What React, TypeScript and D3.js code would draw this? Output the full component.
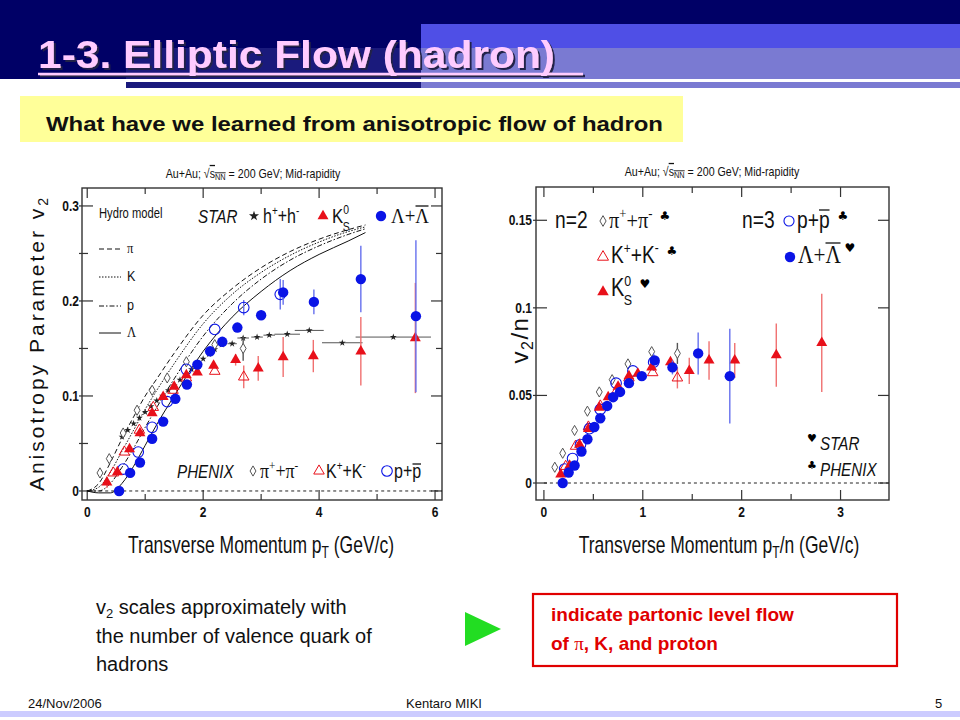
import * as d3 from "d3"
import type { ReactNode } from "react"

type Pt = [number, number, number?] // x, v2, error

// ---- left panel: v2 vs pT ----
const hydroPi: [number, number][] = [
  [0, 0], [0.2, 0.008], [0.4, 0.03], [0.6, 0.055], [0.8, 0.078], [1.0, 0.1], [1.2, 0.118],
  [1.5, 0.145], [2.0, 0.185], [2.5, 0.213], [3.0, 0.235], [3.5, 0.252], [4.0, 0.265], [4.5, 0.275], [4.8, 0.28],
]
const hydroK: [number, number][] = [
  [0, 0], [0.2, 0.004], [0.4, 0.02], [0.6, 0.042], [0.8, 0.064], [1.0, 0.086], [1.2, 0.106],
  [1.5, 0.134], [2.0, 0.176], [2.5, 0.207], [3.0, 0.23], [3.5, 0.248], [4.0, 0.262], [4.5, 0.273], [4.8, 0.278],
]
const hydroP: [number, number][] = [
  [0, 0], [0.2, 0.0], [0.4, 0.008], [0.6, 0.025], [0.8, 0.045], [1.0, 0.067], [1.2, 0.088],
  [1.5, 0.118], [2.0, 0.163], [2.5, 0.197], [3.0, 0.223], [3.5, 0.243], [4.0, 0.258], [4.5, 0.27], [4.8, 0.276],
]
const hydroLam: [number, number][] = [
  [0, 0], [0.2, -0.002], [0.4, -0.002], [0.6, 0.008], [0.8, 0.026], [1.0, 0.048], [1.2, 0.07],
  [1.5, 0.1], [2.0, 0.147], [2.5, 0.183], [3.0, 0.21], [3.5, 0.232], [4.0, 0.249], [4.5, 0.263], [4.8, 0.272],
]

// STAR charged hadrons: pT, v2, horizontal error
const starH: Pt[] = [
  [0.6, 0.057], [0.7, 0.064], [0.8, 0.071], [0.9, 0.077], [1.0, 0.083], [1.1, 0.089], [1.2, 0.095],
  [1.3, 0.1], [1.4, 0.106], [1.5, 0.111], [1.6, 0.117], [1.7, 0.122], [1.8, 0.128], [1.9, 0.133],
  [2.0, 0.139], [2.1, 0.144], [2.2, 0.149], [2.32, 0.154, 0.08], [2.5, 0.155, 0.08], [2.69, 0.161, 0.1],
  [2.93, 0.162, 0.1], [3.14, 0.164, 0.1], [3.45, 0.165, 0.22], [3.83, 0.169, 0.25], [4.4, 0.156, 0.35],
  [5.28, 0.162, 0.65],
]
const starK0: Pt[] = [
  [0.34, 0.009, 0.006], [0.52, 0.02, 0.004], [0.73, 0.044], [0.91, 0.061], [1.12, 0.082], [1.31, 0.099],
  [1.5, 0.11], [1.71, 0.122], [1.9, 0.125], [2.18, 0.132], [2.56, 0.138, 0.006], [2.95, 0.129, 0.013],
  [3.38, 0.141, 0.021], [3.9, 0.142, 0.017], [4.72, 0.147, 0.036], [5.66, 0.161, 0.058],
]
const starLam: Pt[] = [
  [0.55, 0.0, 0.004], [0.74, 0.019], [0.91, 0.03], [1.12, 0.055], [1.31, 0.073], [1.52, 0.097],
  [1.72, 0.112], [1.9, 0.133], [2.12, 0.147], [2.33, 0.157], [2.59, 0.172, 0.004], [3.0, 0.185, 0.005],
  [3.38, 0.209, 0.013], [3.91, 0.199, 0.013], [4.72, 0.223, 0.035], [5.67, 0.184, 0.08],
]
const phxPi: Pt[] = [
  [0.22, 0.019], [0.38, 0.034], [0.62, 0.061], [0.86, 0.085], [1.12, 0.106], [1.38, 0.119],
  [1.71, 0.136], [2.2, 0.154], [2.69, 0.15, 0.013],
]
const phxK: Pt[] = [
  [0.45, 0.019], [0.64, 0.041], [0.9, 0.064], [1.14, 0.088], [1.48, 0.106], [1.71, 0.119],
  [2.2, 0.126], [2.7, 0.12, 0.012],
]
const phxP: Pt[] = [
  [0.62, 0.023], [0.88, 0.041], [1.12, 0.067], [1.38, 0.094], [1.71, 0.128], [2.2, 0.17],
  [2.7, 0.193, 0.008], [3.33, 0.207, 0.016],
]

// ---- right panel: v2/n vs pT/n ----
const nPi: Pt[] = [
  [0.11, 0.009], [0.19, 0.017], [0.31, 0.03], [0.44, 0.041], [0.56, 0.052], [0.69, 0.059],
  [0.85, 0.068], [1.09, 0.075], [1.35, 0.074, 0.006],
]
const nK: Pt[] = [
  [0.22, 0.0095], [0.32, 0.021], [0.45, 0.032], [0.57, 0.044], [0.74, 0.053], [0.86, 0.06],
  [1.1, 0.063], [1.35, 0.06, 0.006],
]
const nK0: Pt[] = [
  [0.17, 0.005], [0.26, 0.01], [0.36, 0.022], [0.45, 0.031], [0.56, 0.043], [0.65, 0.049],
  [0.75, 0.055], [0.86, 0.061], [0.95, 0.0625], [1.09, 0.066], [1.28, 0.069], [1.47, 0.064, 0.0075],
  [1.67, 0.07, 0.011], [1.93, 0.07, 0.01], [2.35, 0.073, 0.018], [2.81, 0.08, 0.028],
]
const nP: Pt[] = [
  [0.21, 0.008], [0.29, 0.014], [0.37, 0.022], [0.46, 0.031], [0.57, 0.042], [0.73, 0.057],
  [0.9, 0.064], [1.11, 0.069, 0.005],
]
const nLam: Pt[] = [
  [0.19, 0.0, 0.0015], [0.25, 0.006], [0.31, 0.01], [0.38, 0.018], [0.44, 0.025], [0.51, 0.032],
  [0.57, 0.037], [0.64, 0.044], [0.7, 0.049], [0.77, 0.052], [0.86, 0.057], [0.99, 0.061],
  [1.12, 0.07], [1.3, 0.066, 0.004], [1.56, 0.074, 0.012], [1.88, 0.061, 0.027],
]

const leftYMajor = [0, 0.1, 0.2, 0.3]
const leftYMinor = [0.05, 0.15, 0.25]
const leftXMajor = [0, 2, 4, 6]
const leftXMinor = [1, 3, 5]
const rightYMajor = [0, 0.05, 0.1, 0.15]
const rightXMajor = [0, 1, 2, 3]
const rightXMinor = [0.5, 1.5, 2.5]

const SANS = "'Liberation Sans', Arial, sans-serif"
const SERIF = "'Liberation Serif', 'Times New Roman', serif"
const SYMF = "'DejaVu Sans', sans-serif"
const BLUE = "#0a14e6"
const RED = "#e8101a"
const EBLUE = "#6670ee"
const ERED = "#f07070"
const SX = 0.8

const lx = d3.scaleLinear().domain([-0.09, 6.12]).range([82, 442])
const ly = d3.scaleLinear().domain([-0.0095, 0.3189]).range([500, 188])
const rx = d3.scaleLinear().domain([-0.08, 3.49]).range([536, 889])
const ry = d3.scaleLinear().domain([-0.0097, 0.169]).range([500, 187])

type Scale = d3.ScaleLinear<number, number>

function NT(p: {
  x: number; y: number; size: number; anchor?: string; weight?: string | number; italic?: boolean
  fill?: string; sx?: number; family?: string; rotate?: number; ls?: number; children: ReactNode
}) {
  return (
    <g transform={`translate(${p.x},${p.y}) rotate(${p.rotate ?? 0}) scale(${p.sx ?? SX},1)`}>
      <text
        fontSize={p.size}
        textAnchor={p.anchor ?? "start"}
        fontWeight={p.weight ?? "normal"}
        fontStyle={p.italic ? "italic" : "normal"}
        fill={p.fill ?? "#111"}
        fontFamily={p.family ?? SANS}
        letterSpacing={p.ls}
      >
        {p.children}
      </text>
    </g>
  )
}

// bar over a letter (anti-particle), drawn by hand
const Bar = ({ x1, x2, y }: { x1: number; x2: number; y: number }) => (
  <line x1={x1} x2={x2} y1={y} y2={y} stroke="#111" strokeWidth={1.3} />
)

const sym = (t: d3.SymbolType, size: number) => d3.symbol().type(t).size(size)() as string

function Marker({ kind, x, y, s = 1 }: { kind: string; x: number; y: number; s?: number }) {
  switch (kind) {
    case "dot":
      return <circle cx={x} cy={y} r={5.2 * s} fill={BLUE} />
    case "ocirc":
      return <circle cx={x} cy={y} r={5.3 * s} fill="none" stroke={BLUE} strokeWidth={1.1} />
    case "tri":
      return <path transform={`translate(${x},${y})`} d={sym(d3.symbolTriangle, 52 * s * s)} fill={RED} />
    case "otri":
      return (
        <path transform={`translate(${x},${y})`} d={sym(d3.symbolTriangle, 48 * s * s)}
          fill="none" stroke={RED} strokeWidth={1} />
      )
    case "diam":
      return (
        <path transform={`translate(${x},${y})`} d={sym(d3.symbolDiamond, 30 * s * s)}
          fill="white" stroke="#555" strokeWidth={1} />
      )
    default:
      return <path transform={`translate(${x},${y})`} d={sym(d3.symbolStar, 26 * s * s)} fill="#222" />
  }
}

function Series({ data, kind, x, y, ecol }: { data: Pt[]; kind: string; x: Scale; y: Scale; ecol: string }) {
  return (
    <g>
      {data.map((d, i) =>
        d[2] ? (
          <line key={"e" + i} x1={x(d[0])} x2={x(d[0])} y1={y(d[1] - d[2])} y2={y(d[1] + d[2])}
            stroke={ecol} strokeWidth={1.4} />
        ) : null
      )}
      {data.map((d, i) => (
        <Marker key={i} kind={kind} x={x(d[0])} y={y(d[1])} />
      ))}
    </g>
  )
}

function Frame({ x, y, xMajor, xMinor, yMajor, yMinor, yFmt, ylabX }: {
  x: Scale; y: Scale; xMajor: number[]; xMinor: number[]; yMajor: number[]; yMinor: number[]
  yFmt: (v: number) => string; ylabX: number
}) {
  const [x0, x1] = x.range()
  const [y0, y1] = y.range()
  const st = "#333"
  return (
    <g>
      <rect x={x0} y={y1} width={x1 - x0} height={y0 - y1} fill="none" stroke={st} strokeWidth={1.4} />
      {[...xMajor.map((v) => [v, 10]), ...xMinor.map((v) => [v, 6])].map(([v, L], i) => (
        <g key={"x" + i} stroke={st} strokeWidth={1.2}>
          <line x1={x(v)} x2={x(v)} y1={y0} y2={y0 - L} />
          <line x1={x(v)} x2={x(v)} y1={y1} y2={y1 + L} />
        </g>
      ))}
      {[...yMajor.map((v) => [v, 11]), ...yMinor.map((v) => [v, 6])].map(([v, L], i) => (
        <g key={"y" + i} stroke={st} strokeWidth={1.2}>
          <line x1={x0 - 3} x2={x0 + L} y1={y(v)} y2={y(v)} />
          <line x1={x1} x2={x1 - L} y1={y(v)} y2={y(v)} />
        </g>
      ))}
      {yMajor.map((v) => (
        <NT key={"yl" + v} x={ylabX} y={y(v) + 5} size={15} weight="bold" anchor="end">{yFmt(v)}</NT>
      ))}
      {xMajor.map((v) => (
        <NT key={"xl" + v} x={x(v)} y={517} size={15} weight="bold" anchor="middle">{String(v)}</NT>
      ))}
      <line x1={x(0)} x2={x1} y1={y(0)} y2={y(0)} stroke="#222" strokeWidth={1} strokeDasharray="3,3" />
    </g>
  )
}

const sup = (s: string, size: number) => (
  <tspan fontSize={size * 0.62} dy={-size * 0.42}>{s}</tspan>
)
const back = (s: string, size: number) => <tspan dy={size * 0.42}>{s}</tspan>

function K0s({ x, y, size }: { x: number; y: number; size: number }) {
  return (
    <NT x={x} y={y} size={size}>
      K
      <tspan fontSize={size * 0.62} dy={-size * 0.42}>0</tspan>
      <tspan fontSize={size * 0.62} dx={-size * 0.62 * 0.6} dy={size * 0.78}>S</tspan>
    </NT>
  )
}

function Header({ cx, y }: { cx: number; y: number }) {
  return (
    <NT x={cx} y={y} size={13} anchor="middle" sx={0.82}>
      Au+Au; √
      <tspan style={{ textDecoration: "overline" }}>
        s<tspan fontSize={9} dy={2}>NN</tspan>
      </tspan>
      <tspan dy={-2}> = 200 GeV; Mid-rapidity</tspan>
    </NT>
  )
}

export default function App() {
  const line = (s: Scale, t: Scale) =>
    d3.line<[number, number]>().x((d) => s(d[0])).y((d) => t(d[1])).curve(d3.curveMonotoneX)
  const hl = line(lx, ly)
  const hydro: [[number, number][], string][] = [
    [hydroPi, "5,3"],
    [hydroK, "1.5,1.5"],
    [hydroP, "5,2,1.5,2"],
    [hydroLam, ""],
  ]
  const legY = [249, 277, 306, 333]
  const legLab = ["π", "K", "p", "Λ"]

  return (
    <div style={{ position: "absolute", left: 0, top: 0 }}>
      <svg width={960} height={720} viewBox="0 0 960 720" style={{ display: "block", background: "white" }}>
        <defs>
          <filter id="titleShadow" x="-5%" y="-20%" width="110%" height="150%">
            <feDropShadow dx={2} dy={2} stdDeviation={0.6} floodColor="#22224a" floodOpacity={1} />
          </filter>
        </defs>
        {/* slide header */}
        <rect x={0} y={0} width={960} height={88} fill="#000066" />
        <rect x={126} y={48} width={295} height={40} fill="#1a1a7c" />
        <rect x={421} y={24} width={539} height={24} fill="#4f4fe6" />
        <rect x={421} y={48} width={539} height={40} fill="#7a7ad2" />
        <rect x={0} y={82} width={126} height={6} fill="white" />
        <rect x={0} y={79} width={960} height={3} fill="white" />
        <g fontFamily={SANS} fontWeight="bold" fontSize={38} filter="url(#titleShadow)">
          <text x={38} y={68} fill="#ffccff" textLength={517} lengthAdjust="spacingAndGlyphs">
            1-3. Elliptic  Flow (hadron)
          </text>
          <line x1={38} x2={583} y1={74} y2={74} stroke="#ffccff" strokeWidth={2.5} />
        </g>

        <rect x={20} y={96} width={663} height={46} fill="#ffff99" />
        <text x={46} y={131} fontFamily={SANS} fontWeight="bold" fontSize={20} fill="#111"
          textLength={617} lengthAdjust="spacingAndGlyphs">
          What have we learned from anisotropic flow of hadron
        </text>

        {/* ---------- left panel ---------- */}
        <Header cx={253} y={178} />
        <Frame x={lx} y={ly} xMajor={leftXMajor} xMinor={leftXMinor} yMajor={leftYMajor}
          yMinor={leftYMinor} yFmt={(v) => (v === 0 ? "0" : d3.format(".1f")(v))} ylabX={79} />
        {hydro.map(([d, dash], i) => (
          <path key={i} d={hl(d) ?? ""} fill="none" stroke="#111" strokeWidth={1} strokeDasharray={dash || undefined} />
        ))}
        {starH.map((d, i) =>
          d[2] ? (
            <line key={"h" + i} x1={lx(d[0] - d[2])} x2={Math.min(lx(d[0] + d[2]), 442)} y1={ly(d[1])} y2={ly(d[1])}
              stroke="#555" strokeWidth={1} />
          ) : null
        )}
        {starH.map((d, i) => (
          <Marker key={"hs" + i} kind="star" x={lx(d[0])} y={ly(d[1])} s={0.75} />
        ))}
        <Series data={phxPi} kind="diam" x={lx} y={ly} ecol="#555" />
        <Series data={phxK} kind="otri" x={lx} y={ly} ecol={ERED} />
        <Series data={phxP} kind="ocirc" x={lx} y={ly} ecol={EBLUE} />
        <Series data={starK0} kind="tri" x={lx} y={ly} ecol={ERED} />
        <Series data={starLam} kind="dot" x={lx} y={ly} ecol={EBLUE} />

        {/* hydro legend */}
        <NT x={99} y={218} size={14}>Hydro model</NT>
        {hydro.map(([, dash], i) => (
          <line key={"hl" + i} x1={99} x2={121} y1={legY[i]} y2={legY[i]} stroke="#111" strokeWidth={1}
            strokeDasharray={dash || undefined} />
        ))}
        {legLab.map((t, i) => (
          <NT key={t} x={127} y={legY[i] + 4} size={14} sx={0.9} family={t === "π" || t === "Λ" ? SERIF : SANS}>{t}</NT>
        ))}

        {/* STAR row */}
        <NT x={198} y={223} size={19} italic>STAR</NT>
        <Marker kind="star" x={254} y={216} s={1.1} />
        <NT x={263} y={223} size={20}>h{sup("+", 20)}{back("+h", 20)}{sup("-", 20)}</NT>
        <Marker kind="tri" x={323} y={216} />
        <K0s x={332} y={223} size={21} />
        <Marker kind="dot" x={381} y={216} />
        <NT x={391} y={223} size={21} family={SERIF} sx={0.9}>Λ+Λ</NT>
        <Bar x1={415.5} x2={428.5} y={206} />

        {/* PHENIX row */}
        <NT x={177} y={478} size={19} italic>PHENIX</NT>
        <Marker kind="diam" x={253} y={471} />
        <NT x={260} y={478} size={20} family={SERIF} sx={0.9}>π{sup("+", 20)}{back("+π", 20)}{sup("-", 20)}</NT>
        <Marker kind="otri" x={319} y={471} />
        <NT x={326} y={478} size={20}>K{sup("+", 20)}{back("+K", 20)}{sup("-", 20)}</NT>
        <Marker kind="ocirc" x={387} y={471} />
        <NT x={394} y={478} size={20}>p+p</NT>
        <Bar x1={412.5} x2={421} y={464} />

        {/* axis titles */}
        <NT x={44} y={343} size={21} rotate={-90} sx={1} anchor="middle" ls={3}>
          Anisotropy Parameter v<tspan fontSize={14} dy={4}>2</tspan>
        </NT>
        <NT x={261} y={553} size={23} anchor="middle" sx={0.76}>
          Transverse Momentum p<tspan fontSize={16} dy={5}>T</tspan><tspan dy={-5}> (GeV/c)</tspan>
        </NT>

        {/* ---------- right panel ---------- */}
        <Header cx={712} y={176} />
        <Frame x={rx} y={ry} xMajor={rightXMajor} xMinor={rightXMinor} yMajor={rightYMajor} yMinor={[]}
          yFmt={(v) => (v === 0 ? "0" : String(v))} ylabX={532} />
        <Series data={nPi} kind="diam" x={rx} y={ry} ecol="#555" />
        <Series data={nK} kind="otri" x={rx} y={ry} ecol={ERED} />
        <Series data={nP} kind="ocirc" x={rx} y={ry} ecol={EBLUE} />
        <Series data={nK0} kind="tri" x={rx} y={ry} ecol={ERED} />
        <Series data={nLam} kind="dot" x={rx} y={ry} ecol={EBLUE} />

        {/* right legend */}
        <NT x={555} y={228} size={24}>n=2</NT>
        <Marker kind="diam" x={603} y={221} s={1.05} />
        <NT x={609} y={228} size={24} family={SERIF} sx={0.85}>π{sup("+", 24)}{back("+π", 24)}{sup("-", 24)}</NT>
        <text x={665} y={220} fontFamily={SYMF} fontSize={12} textAnchor="middle">♣</text>
        <NT x={742} y={228} size={24}>n=3</NT>
        <Marker kind="ocirc" x={789} y={221} s={0.95} />
        <NT x={797} y={228} size={24}>p+p</NT>
        <Bar x1={819} x2={829.5} y={210} />
        <text x={843} y={220} fontFamily={SYMF} fontSize={12} textAnchor="middle">♣</text>

        <Marker kind="otri" x={603} y={257} s={1.05} />
        <NT x={611} y={263} size={24}>K{sup("+", 24)}{back("+K", 24)}{sup("-", 24)}</NT>
        <text x={672} y={255} fontFamily={SYMF} fontSize={12} textAnchor="middle">♣</text>
        <Marker kind="dot" x={790} y={257} />
        <NT x={798} y={263} size={25} family={SERIF} sx={0.85}>Λ+Λ</NT>
        <Bar x1={825.5} x2={840.5} y={243} />
        <text x={850} y={252} fontFamily={SYMF} fontSize={12} textAnchor="middle">♥</text>

        <Marker kind="tri" x={603} y={292} s={1.05} />
        <K0s x={611} y={296} size={25} />
        <text x={645} y={288} fontFamily={SYMF} fontSize={12} textAnchor="middle">♥</text>

        <text x={812} y={442} fontFamily={SYMF} fontSize={11} textAnchor="middle">♥</text>
        <NT x={820} y={450} size={19} italic>STAR</NT>
        <text x={812} y={469} fontFamily={SYMF} fontSize={11} textAnchor="middle">♣</text>
        <NT x={820} y={476} size={19} italic>PHENIX</NT>

        <NT x={528} y={340} size={24} rotate={-90} sx={1} anchor="middle" ls={1.5}>
          v<tspan fontSize={16} dy={5}>2</tspan><tspan dy={-5}>/n</tspan>
        </NT>
        <NT x={719} y={553} size={23} anchor="middle" sx={0.76}>
          Transverse Momentum p<tspan fontSize={16} dy={5}>T</tspan><tspan dy={-5}>/n (GeV/c)</tspan>
        </NT>

        {/* ---------- bottom text ---------- */}
        <g fontFamily={SANS} fontSize={20} fill="#111">
          <text x={96} y={614}>
            v<tspan fontSize={13} dy={4}>2</tspan><tspan dy={-4}> scales approximately with</tspan>
          </text>
          <text x={96} y={643}>the number of valence quark of</text>
          <text x={96} y={671}>hadrons</text>
        </g>
        <path d="M465,612 L501,629 L465,646 Z" fill="#22dd22" />
        <rect x={533} y={594} width={364} height={72} fill="none" stroke="#e00000" strokeWidth={2.2} />
        <g fontFamily={SANS} fontSize={19} fontWeight="bold" fill="#e00000">
          <text x={551} y={621}>indicate partonic level flow</text>
          <text x={551} y={650}>
            of <tspan fontFamily={SERIF} fontWeight="normal">π</tspan>, K, and proton
          </text>
        </g>

        {/* footer */}
        <g fontFamily={SANS} fontSize={13} fill="#111">
          <text x={28} y={708}>24/Nov/2006</text>
          <text x={444} y={708} textAnchor="middle">Kentaro MIKI</text>
          <text x={935} y={708}>5</text>
        </g>
        <rect x={0} y={711} width={960} height={6} fill="#ccccff" />
      </svg>
    </div>
  )
}
